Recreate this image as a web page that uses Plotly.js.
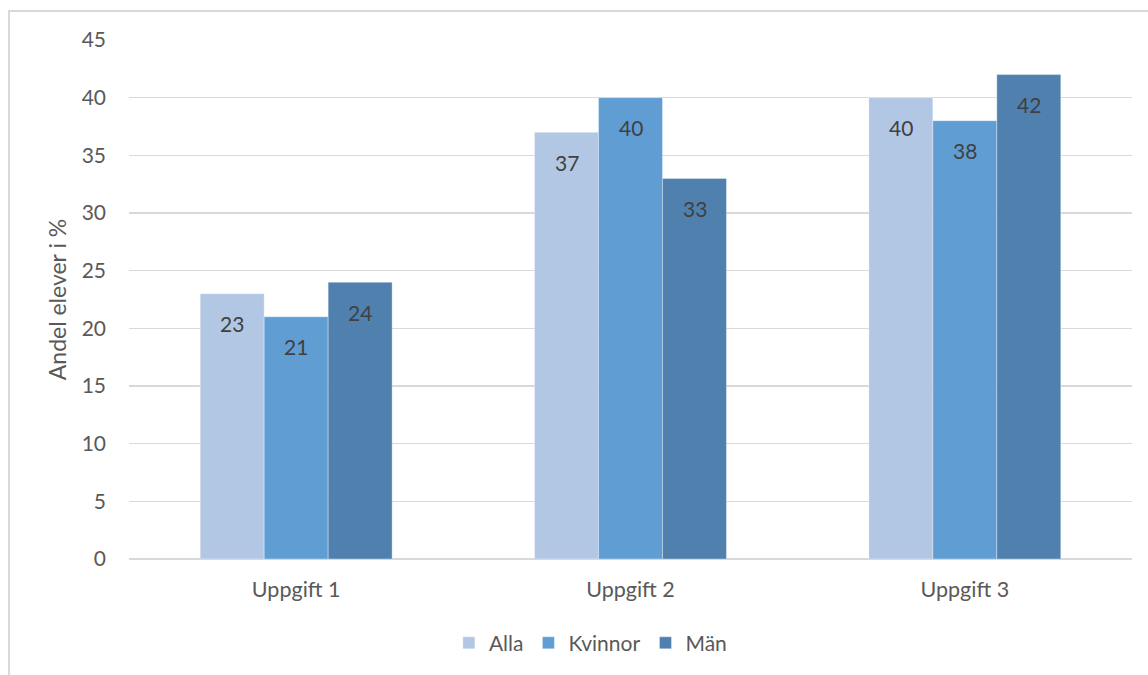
<!DOCTYPE html>
<html>
<head>
<meta charset="utf-8">
<script src="https://cdn.plot.ly/plotly-3.0.1.min.js"></script>
<style>html,body{margin:0;padding:0;background:#fff;}#chart{width:1148px;height:675px;}</style>
</head>
<body>
<div id="chart"></div>
<script>
const categories = ["Uppgift 1", "Uppgift 2", "Uppgift 3"];
const seriesNames = ["Alla", "Kvinnor", "Män"];
const alla = [23, 37, 40];
const kvinnor = [21, 40, 38];
const man = [24, 33, 42];
const yTicks = [0, 5, 10, 15, 20, 25, 30, 35, 40, 45];

const seriesValues = [alla, kvinnor, man];
const colors = ["#b2c7e4", "#5f9dd3", "#4f80ae"];
const FONT = "Lato, 'Open Sans', sans-serif";

const traces = seriesValues.map((vals, i) => ({
  type: "bar",
  name: seriesNames[i],
  x: categories,
  y: vals,
  marker: { color: colors[i], line: { color: "rgba(255,255,255,0.35)", width: 1 } },
  hoverinfo: "none"
}));

const barPx = 64;
const annotations = [];
seriesValues.forEach((vals, i) => {
  vals.forEach((v, j) => {
    annotations.push({
      x: categories[j], y: v, xref: "x", yref: "y",
      text: String(v), showarrow: false,
      xshift: (i - 1) * barPx, yshift: -30,
      font: { family: FONT, size: 21, color: "#404040" }
    });
  });
});

const layout = {
  width: 1148, height: 675,
  margin: { l: 129, r: 16, t: 40, b: 115 },
  paper_bgcolor: "#fff", plot_bgcolor: "#fff",
  barmode: "group", bargap: 0.426, bargroupgap: 0,
  font: { family: FONT, size: 21, color: "#595959" },
  xaxis: {
    type: "category", showgrid: false, zeroline: false,
    showline: false, ticks: "", tickfont: { family: FONT, size: 21.5, color: "#595959" },
    ticklabelstandoff: 15
  },
  yaxis: {
    range: [0, 45], tickvals: yTicks, ticktext: yTicks.map(String),
    showgrid: true, gridcolor: "#d9d9d9", gridwidth: 1.5,
    zeroline: true, zerolinecolor: "#d9d9d9", zerolinewidth: 1.5,
    showline: false, ticks: "",
    tickfont: { family: FONT, size: 21, color: "#595959" },
    ticklabelstandoff: 22,
    title: { text: "Andel elever i %", font: { family: FONT, size: 23, color: "#595959" }, standoff: 8 }
  },
  legend: {
    orientation: "h", x: 0.46, xanchor: "center", y: -0.16, yanchor: "middle",
    font: { family: FONT, size: 21, color: "#595959" },
    itemwidth: 30, traceorder: "normal"
  },
  annotations: annotations,
  shapes: [{
    type: "rect", xref: "paper", yref: "paper",
    x0: -0.1196, x1: 1.05, y0: -0.3, y1: 1.0558,
    line: { color: "#d9d9d9", width: 2 }, fillcolor: "rgba(0,0,0,0)", layer: "below"
  }],
  showlegend: true
};

Plotly.newPlot("chart", traces, layout, { displayModeBar: false, staticPlot: true });
</script>
</body>
</html>
